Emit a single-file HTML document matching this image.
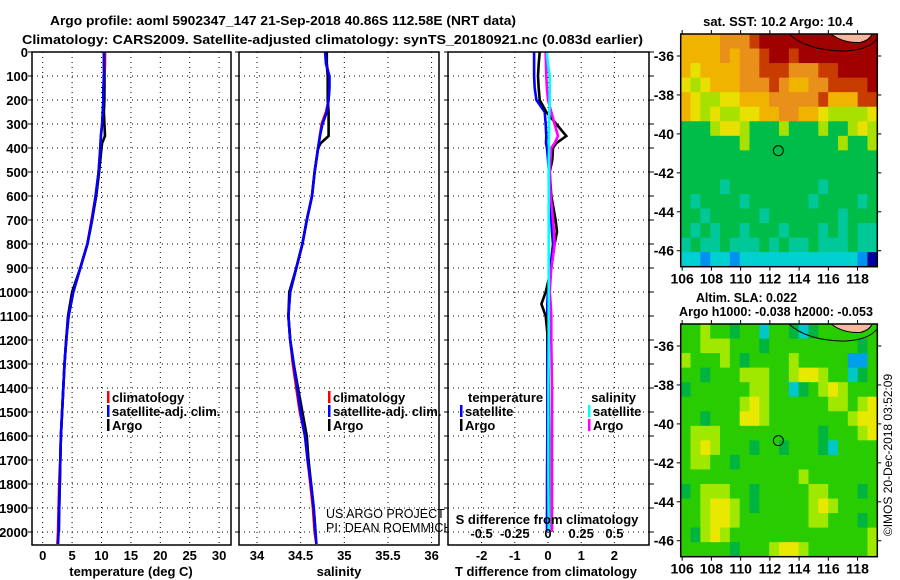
<!DOCTYPE html>
<html><head><meta charset="utf-8"><style>
html,body{margin:0;padding:0;background:#fff;}
svg{display:block;font-family:"Liberation Sans",sans-serif;}
text{font-weight:bold;font-size:13px;fill:#000;}
</style></head><body>
<svg id="c" width="900" height="580" viewBox="0 0 900 580" xmlns="http://www.w3.org/2000/svg">
<text x="50" y="25" textLength="466" lengthAdjust="spacingAndGlyphs" font-size="14">Argo profile: aoml 5902347_147 21-Sep-2018 40.86S 112.58E (NRT data)</text>
<text x="22" y="44" textLength="621" lengthAdjust="spacingAndGlyphs" font-size="14">Climatology: CARS2009. Satellite-adjusted climatology: synTS_20180921.nc (0.083d earlier)</text>
<text x="778" y="26" text-anchor="middle">sat. SST: 10.2 Argo: 10.4</text>
<text x="696" y="302" textLength="101" lengthAdjust="spacingAndGlyphs">Altim. SLA: 0.022</text>
<text x="679" y="316" textLength="194" lengthAdjust="spacingAndGlyphs">Argo h1000: -0.038 h2000: -0.053</text>
<text transform="translate(892,455) rotate(-90)" text-anchor="middle" style="font-weight:normal;font-size:12px">©IMOS 20-Dec-2018 03:52:09</text>
</svg>
<script>
// ---- profile data ----
const depths=[0,50,100,150,200,250,300,350,400,500,600,700,800,900,1000,1100,1200,1300,1400,1500,1600,1700,1800,1900,2000,2050];
const climT=[10.6,10.6,10.5,10.5,10.4,10.3,10.1,9.9,9.8,9.5,9.0,8.3,7.6,6.4,5.2,4.4,4.0,3.7,3.5,3.3,3.1,3.0,2.8,2.7,2.6,2.5];
const satT=[10.4,10.4,10.4,10.3,10.3,10.2,10.1,9.9,9.8,9.5,9.0,8.4,7.6,6.4,5.2,4.4,4.0,3.7,3.5,3.3,3.1,3.0,2.9,2.8,2.7,2.6];
const argoDepths=[0,50,100,150,200,250,300,350,380,400,500,600,700,800,900,1000,1100,1200,1300,1400,1500,1600,1700,1800,1900,2000];
const argoT=[10.4,10.4,10.5,10.5,10.5,10.4,10.5,10.6,10.1,10.0,9.6,9.1,8.4,7.6,6.4,5.0,4.3,4.0,3.7,3.5,3.3,3.1,3.0,2.9,2.8,2.75];
const climS=[34.79,34.80,34.82,34.82,34.82,34.79,34.74,34.72,34.70,34.66,34.63,34.57,34.52,34.45,34.38,34.36,34.38,34.41,34.45,34.49,34.55,34.58,34.61,34.64,34.66,34.68];
const satS=[34.78,34.79,34.83,34.83,34.82,34.80,34.75,34.72,34.70,34.66,34.63,34.57,34.52,34.45,34.38,34.36,34.38,34.42,34.46,34.50,34.55,34.58,34.62,34.65,34.67,34.68];
const argoS=[34.80,34.80,34.81,34.81,34.81,34.82,34.82,34.82,34.73,34.70,34.66,34.63,34.57,34.52,34.45,34.37,34.36,34.38,34.42,34.47,34.52,34.57,34.59,34.62,34.65,34.67];
const diffDepths=[0,50,100,150,200,250,300,350,380,400,450,500,600,700,750,800,900,1000,1050,1100,1200,1400,1600,1800,2000];
const tSatDiff=[-0.42,-0.42,-0.42,-0.40,-0.35,-0.10,-0.07,-0.05,-0.06,-0.03,0.0,0.03,0.05,0.10,0.12,0.15,0.07,0.0,-0.02,-0.02,-0.02,-0.02,-0.02,-0.03,-0.03];
const tArgoDiff=[-0.25,-0.28,-0.30,-0.28,-0.25,-0.05,0.25,0.55,0.25,0.15,0.13,0.05,0.10,0.23,0.27,0.20,0.10,-0.07,-0.20,-0.07,0.0,0.02,0.03,0.03,0.03];
const sSatDiff=[-0.008,0.0,0.013,0.013,0.013,0.010,0.008,0.008,0.006,0.008,0.005,0.005,0.005,0.005,0.005,0.005,0.005,0.005,0.005,0.005,0.005,0.003,0.003,0.003,0.005];
const sArgoDiff=[-0.018,-0.015,-0.013,-0.008,0.0,0.025,0.05,0.075,0.05,0.025,0.018,0.013,0.02,0.038,0.045,0.05,0.025,0.013,0.02,0.025,0.025,0.03,0.03,0.03,0.03];
const tTicks=[0,5,10,15,20,25,30];
const sTicks=[34,34.5,35,35.5,36];
const sTickLabels=["34","34.5","35","35.5","36"];
const tdTicks=[-2,-1,0,1,2];
const sdTicks=[-0.5,-0.25,0,0.25,0.5];
const sdTickLabels=["-0.5","-0.25","0","0.25","0.5"];
const depthTicks=[0,100,200,300,400,500,600,700,800,900,1000,1100,1200,1300,1400,1500,1600,1700,1800,1900,2000];
// ---- map data ----
const lonTicks=[106,108,110,112,114,116,118];
const latTicks=[-36,-38,-40,-42,-44,-46];
const mapLonRange=[105.9,119.35];
const mapLatRange=[-34.87,-46.82];
const argoLon=112.58, argoLat=-40.86;
const sstGrid=[
"yyyyooorRRRRRRRRRRRR",
"yyyyoyoorRRrRRRRRRRR",
"yYyyyyoorrrooorrRRRR",
"YlYyyyoooroyyoorrrrR",
"yYllYYyyyoooooryyyrr",
"yYlYllYYyyooyyYllllY",
"ggglYYlggglggglgglYl",
"gggggglggggggggglggl",
"gggggggggggggggggggg",
"gggggggggggggggggggg",
"ggggtgggggggggtggggg",
"gtggggtggggggtggggtg",
"ggtgggggtgggggggtggg",
"gtgtggtgggtgggtgtgtt",
"tgttgtttgtgttgtttgtt",
"ccbccbccccccccccccbB"];
const slaGrid=[
"GGlGGdGGcGGdcdGGGGGG",
"GGlllGGGdGGGGGGGGGdG",
"lGGGlGdGGGGlGGGGGbbG",
"GGdGGGlllGGlYYlGGcdG",
"dGGGGGGllGGcdGlYlGGG",
"GGGGGGlYlGGGGGGllGlY",
"GGdGGGYYlGGGGGGGGlYY",
"GlllGGGGGGGGGGdGGGlY",
"GlYlGGGdGGdGGGdcGGGG",
"GllGGdGGGGGGGGGGGGGG",
"GGGGGGGGGGGGlGGGGGGG",
"dGlllGGdGGGGGllGGGdG",
"GGlYYlGdGGGGGlYlGGGG",
"GGlYYlGGGGGGGllGGGdG",
"GdlYlGGGGGGGGGGGGGGl",
"GGGGGdGGGlYYlGGGGGGl"];
const sstColors={R:"#a00000",r:"#c83c00",o:"#e8901a",y:"#f0b400",Y:"#e8e000",l:"#a8e000",g:"#00bc48",t:"#00c898",c:"#00d0d0",b:"#0090f0",B:"#0000a0"};
const slaColors={G:"#28cc00",d:"#00b440",l:"#a0e800",Y:"#e8e800",c:"#00c8c8",b:"#00a0e8"};

const svg=document.getElementById('c');
const NS="http://www.w3.org/2000/svg";
function mk(tag,attrs,parent){const e=document.createElementNS(NS,tag);for(const k in attrs)e.setAttribute(k,attrs[k]);(parent||svg).appendChild(e);return e;}
function txt(x,y,s,anchor,parent,extra){const e=mk('text',Object.assign({x:x,y:y,'text-anchor':anchor||'start'},extra||{}),parent);e.textContent=s;return e;}

const yD=d=>52+d*0.24;
const PT=52,PB=545;
const xT=v=>42.7+v*5.88;
const xS=v=>257+(v-34)*87.3;
const xTd=v=>548+v*33.2;
const xSd=v=>548+v*132.8;

function panel(name,L,R){
  const g=mk('g',{});
  
  
  depthTicks.forEach(d=>{
    const l=mk('line',{x1:L,x2:R,y1:yD(d),y2:yD(d),stroke:'#000','stroke-width':1,'stroke-dasharray':'1,4'},g);
    
    
    const t=mk('line',{x1:L-4,x2:L,y1:yD(d),y2:yD(d),stroke:'#000'},g);
    
    
  });
  return g;
}
function frame(g,L,R){
  const f=mk('rect',{x:L,y:PT,width:R-L,height:PB-PT,fill:'none',stroke:'#000','stroke-width':1.5},g);
  
  
}
function vgrid(g,xs,L,R){
  xs.forEach(x=>{
    const l=mk('line',{x1:x,x2:x,y1:PT,y2:PB,stroke:'#000','stroke-width':1,'stroke-dasharray':'1,4'},g);
    
    
  });
}
function series(g,name,xs,ds,xf,color){
  const pts=xs.map((v,i)=>xf(v).toFixed(1)+','+yD(ds[i]).toFixed(1)).join(' ');
  const p=mk('polyline',{points:pts,fill:'none',stroke:color,'stroke-width':2.6,'stroke-linejoin':'miter'},g);
  
  
}
function legendItem(g,x,y,color,label){
  const r=mk('rect',{x:x,y:y-11,width:2.5,height:12,fill:color},g);
  
  
  const t=txt(x+5,y,label,'start',g);
  
  
}

depthTicks.forEach(d=>{
  const t=txt(28,yD(d)+5,String(d),'end');
  
  
});

{
  const L=32,R=231;
  const g=panel('temperature-panel',L,R);
  vgrid(g,tTicks.map(xT),L,R);
  series(g,'climatology-temperature',climT,depths,xT,'#ff0000');
  series(g,'argo-temperature',argoT,argoDepths,xT,'#000000');
  series(g,'satellite-temperature',satT,depths,xT,'#0000ff');
  frame(g,L,R);
  tTicks.forEach(v=>{const t=txt(xT(v),560,String(v),'middle',g);});
  const at=txt(131,576,'temperature (deg C)','middle',g);
  
  
  legendItem(g,107,402,'#ff0000','climatology');
  legendItem(g,107,416,'#0000ff','satellite-adj. clim.');
  legendItem(g,107,430,'#000000','Argo');
}
{
  const L=239,R=439;
  const g=panel('salinity-panel',L,R);
  vgrid(g,sTicks.map(xS),L,R);
  series(g,'climatology-salinity',climS,depths,xS,'#ff0000');
  series(g,'argo-salinity',argoS,argoDepths,xS,'#000000');
  series(g,'satellite-salinity',satS,depths,xS,'#0000ff');
  frame(g,L,R);
  sTicks.forEach((v,i)=>{const t=txt(xS(v),560,sTickLabels[i],'middle',g);});
  const at=txt(339,576,'salinity','middle',g);
  
  
  legendItem(g,328,402,'#ff0000','climatology');
  legendItem(g,328,416,'#0000ff','satellite-adj. clim.');
  legendItem(g,328,430,'#000000','Argo');
  const a1=txt(326,518,'US ARGO PROJECT','start',g,{style:'font-weight:normal;font-size:12.5px'});
  
  
  const a2=txt(326,532,'PI: DEAN ROEMMICH','start',g,{style:'font-weight:normal;font-size:12.5px'});
  
  
}
{
  const L=448,R=649;
  const cover=mk('rect',{x:L,y:PT,width:R-L+6,height:PB-PT,fill:'#fff'});
  
  
  const g=panel('difference-panel',L,R);
  depthTicks.forEach(d=>{const t=mk('line',{x1:R,x2:R+5,y1:yD(d),y2:yD(d),stroke:'#000'},g);});
  vgrid(g,tdTicks.map(xTd),L,R);
  series(g,'satellite-temperature-difference',tSatDiff,diffDepths,xTd,'#0000ff');
  series(g,'argo-temperature-difference',tArgoDiff,diffDepths,xTd,'#000000');
  series(g,'argo-salinity-difference',sArgoDiff,diffDepths,xSd,'#ff00ff');
  series(g,'satellite-salinity-difference',sSatDiff,diffDepths,xSd,'#00ffff');
  frame(g,L,R);
  tdTicks.forEach(v=>{const t=txt(xTd(v),560,String(v),'middle',g);});
  sdTicks.forEach((v,i)=>{const t=txt(xSd(v),538,sdTickLabels[i],'middle',g);});
  const st=txt(547,524,'S difference from climatology','middle',g);
  
  
  const tt=txt(546,576,'T difference from climatology','middle',g);
  
  
  const h1=txt(468,402,'temperature','start',g);
  
  
  const h2=txt(636,402,'salinity','end',g);
  
  
  legendItem(g,460,416,'#0000ff','satellite');
  legendItem(g,460,430,'#000000','Argo');
  legendItem(g,588,416,'#00ffff','satellite');
  legendItem(g,588,430,'#ff00ff','Argo');
}

function drawMap(name,top,grid,colors){
  const bottom=top+232.7;
  const lonX=l=>680.7+(l-mapLonRange[0])/(mapLonRange[1]-mapLonRange[0])*196.6;
  const latY=a=>top+(mapLatRange[0]-a)/(mapLatRange[0]-mapLatRange[1])*232.7;
  const g=mk('g',{});
  
  
  const rows=grid.length,cols=grid[0].length;
  const dLon=(mapLonRange[1]-mapLonRange[0])/cols,dLat=(mapLatRange[0]-mapLatRange[1])/rows;
  for(let r=0;r<rows;r++)for(let c=0;c<cols;c++){
    const x0=lonX(mapLonRange[0]+c*dLon),x1=lonX(mapLonRange[0]+(c+1)*dLon);
    const y0=latY(mapLatRange[0]-r*dLat),y1=latY(mapLatRange[0]-(r+1)*dLat);
    const cell=mk('rect',{x:x0.toFixed(2),y:y0.toFixed(2),width:(x1-x0+0.4).toFixed(2),height:(y1-y0+0.4).toFixed(2),fill:colors[grid[r][c]]},g);
    
    
  }
  const land=mk('path',{d:`M${lonX(116.2)},${top} Q${lonX(117)},${latY(-35.35)} ${lonX(118.2)},${latY(-35.3)} Q${lonX(118.8)},${latY(-35.2)} ${lonX(119.0)},${top} Z`,fill:'#f4b8a0',stroke:'#000','stroke-width':1},g);
  
  
  const cst=mk('path',{d:`M${lonX(113.3)},${top} Q${lonX(114.5)},${latY(-35.7)} ${lonX(117)},${latY(-35.75)} Q${lonX(118.8)},${latY(-35.7)} ${lonX(119.35)},${latY(-35.1)}`,fill:'none',stroke:'#000','stroke-width':1},g);
  
  
  const fr=mk('rect',{x:680.7,y:top,width:196.6,height:232.7,fill:'none',stroke:'#000','stroke-width':1.5},g);
  
  
  const circ=mk('circle',{cx:lonX(argoLon),cy:latY(argoLat),r:5,fill:'none',stroke:'#000','stroke-width':1},g);
  
  
  lonTicks.forEach(l=>{
    const x=lonX(l);
    const t1=mk('line',{x1:x,x2:x,y1:top-4,y2:top,stroke:'#000'},g);
    
    
    const t2=mk('line',{x1:x,x2:x,y1:bottom,y2:bottom+4,stroke:'#000'},g);
    
    
    const lb=txt(x,bottom+17,String(l),'middle',g,{style:'font-size:14px'});
    
    
  });
  latTicks.forEach(a=>{
    const y=latY(a);
    const t1=mk('line',{x1:676.7,x2:680.7,y1:y,y2:y,stroke:'#000'},g);
    
    
    const t2=mk('line',{x1:877.3,x2:881.3,y1:y,y2:y,stroke:'#000'},g);
    
    
    const lb=txt(674,y+5,String(a),'end',g,{style:'font-size:14px'});
    
    
  });
}
drawMap('sst-map',34,sstGrid,sstColors);
drawMap('sla-map',324,slaGrid,slaColors);
</script>
</body></html>
